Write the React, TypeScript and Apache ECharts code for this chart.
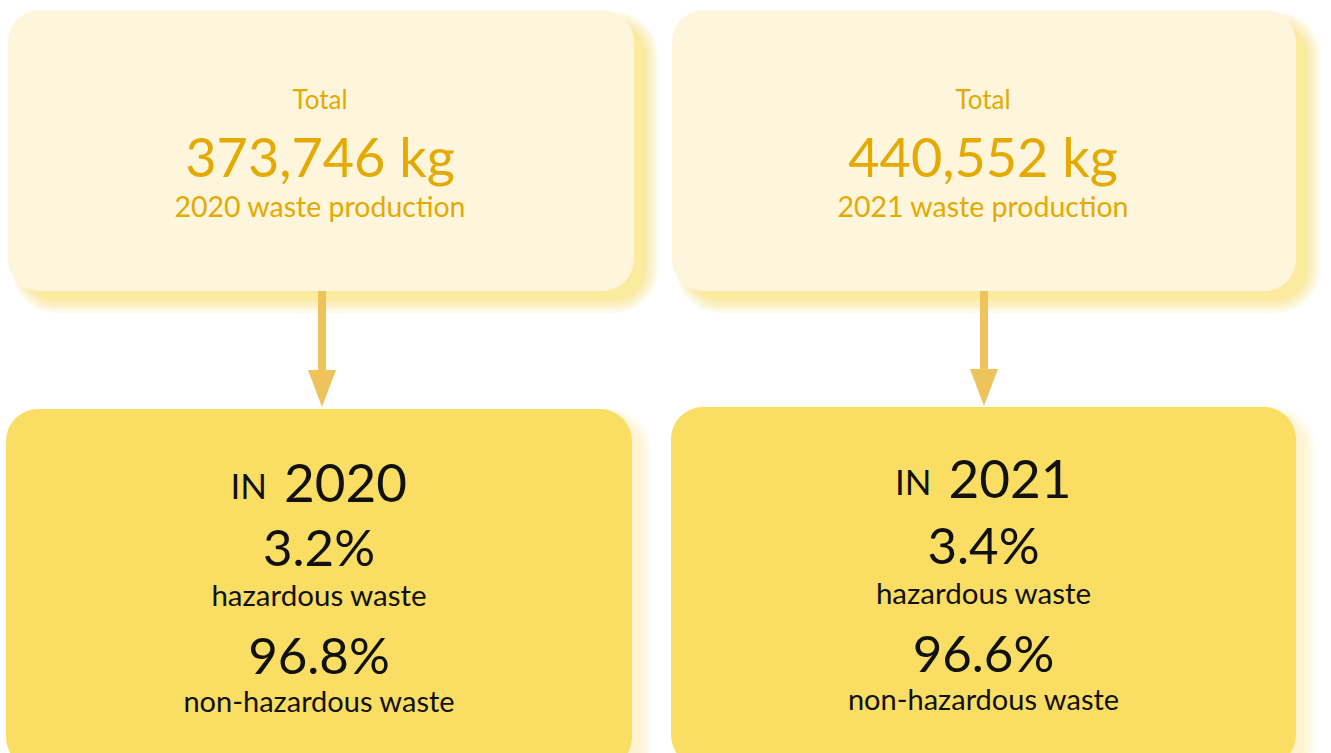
import React, { useEffect, useRef } from "react";
import * as echarts from "echarts";

// ---- data ----
const years: string[] = ["2020", "2021"];
const totalsKg: number[] = [373746, 440552];
const hazardousPct: number[] = [3.2, 3.4];
const nonHazardousPct: number[] = [96.8, 96.6];
const labelTotal = "Total";
const labelProduction = "waste production";
const labelIn = "IN";
const labelHaz = "hazardous waste";
const labelNonHaz = "non-hazardous waste";

// ---- layout ----
const topBoxes = [
  { x: 8, y: 10, w: 626, h: 281 },
  { x: 672, y: 10, w: 624, h: 281 },
];
const bottomBoxes = [
  { x: 6, y: 409, w: 626, h: 360, dy: 0 },
  { x: 671, y: 407, w: 625, h: 360, dy: -2 },
];
const arrowX = [322, 984];

const FONT = "Lato, 'Noto Sans', sans-serif";
const GOLD = "#e4aa00";
const DARK = "#111111";

function fmt(n: number) {
  return n.toLocaleString("en-US");
}

// soft shadow emulated by stacked translucent rects
function softShadow(x: number, y: number, w: number, h: number, r: number, rgb: string, coreAlpha: number, layerAlpha: number, steps: number, stepPx: number, z: number) {
  const out: any[] = [];
  for (let k = steps; k >= 1; k--) {
    const e = k * stepPx;
    out.push({
      type: "rect",
      shape: { x: x - e, y: y - e, width: w + 2 * e, height: h + 2 * e, r: r + e },
      style: { fill: `rgba(${rgb},${layerAlpha})` },
      z,
      silent: true,
    });
  }
  out.push({
    type: "rect",
    shape: { x, y, width: w, height: h, r },
    style: { fill: `rgba(${rgb},${coreAlpha})` },
    z,
    silent: true,
  });
  return out;
}

function buildGraphics() {
  const els: any[] = [];
  years.forEach((yr, i) => {
    const tb = topBoxes[i];
    const bb = bottomBoxes[i];
    const tcx = tb.x + tb.w / 2 - 1;
    const bcx = bb.x + bb.w / 2;
    // bottom box faint shadow
    els.push(...softShadow(bb.x + 16, bb.y + 10, bb.w - 8, bb.h, 32, "252,242,190", 0.35, 0.12, 6, 2, 0));
    // bottom box
    els.push({
      type: "rect",
      shape: { x: bb.x, y: bb.y, width: bb.w, height: bb.h, r: 32 },
      style: { fill: "#f9de63" },
      z: 1,
    });
    // top box shadow
    els.push(...softShadow(tb.x + 16, tb.y + 14, tb.w - 4, tb.h - 4, 32, "250,233,150", 0.75, 0.16, 6, 2, 2));
    // top box
    els.push({
      type: "rect",
      shape: { x: tb.x, y: tb.y, width: tb.w, height: tb.h, r: 32 },
      style: { fill: "#fdf5dc" },
      z: 3,
    });
    // arrow
    const ax = arrowX[i];
    els.push({
      type: "rect",
      shape: { x: ax - 4, y: tb.y + tb.h, width: 8, height: 80 },
      style: { fill: "#eec35c" },
      z: 4,
    });
    els.push({
      type: "polygon",
      shape: {
        points: [
          [ax - 14, 370 + bb.dy / 2],
          [ax + 14, 370 + bb.dy / 2],
          [ax, 407 + bb.dy / 2],
        ],
      },
      style: { fill: "#eec35c" },
      z: 4,
    });
    const txt = (text: string, x: number, y: number, size: number, fill: string, align = "center") => ({
      type: "text",
      x,
      y,
      z: 5,
      style: {
        text,
        fill,
        fontSize: size,
        fontFamily: FONT,
        fontWeight: 400,
        align,
        verticalAlign: "middle",
      },
    });
    // top texts
    els.push(txt(labelTotal, tcx, 99, 26, GOLD));
    els.push(txt(fmt(totalsKg[i]) + " kg", tcx, 156, 54, GOLD));
    els.push(txt(yr + " " + labelProduction, tcx, 206, 28.5, GOLD));
    // bottom texts
    const d = bb.dy;
    els.push(txt(labelIn, bcx - 52, 485 + d * 2, 35, DARK, "right"));
    els.push(txt(yr, bcx - 35, 481 + d * 2, 53, DARK, "left"));
    els.push(txt(hazardousPct[i].toFixed(1) + "%", bcx, 546 + d, 51, DARK));
    els.push(txt(labelHaz, bcx, 594 + d, 29.5, DARK));
    els.push(txt(nonHazardousPct[i].toFixed(1) + "%", bcx, 654 + d, 51, DARK));
    els.push(txt(labelNonHaz, bcx, 700 + d, 29, DARK));
  });
  return els;
}

export default function App() {
  const ref = useRef<HTMLDivElement>(null);
  useEffect(() => {
    if (!ref.current) return;
    const chart = echarts.init(ref.current, undefined, { renderer: "svg" });
    chart.setOption({
      animation: false,
      backgroundColor: "#ffffff",
      graphic: { elements: buildGraphics() },
    });
    return () => chart.dispose();
  }, []);
  return (
    <div
      ref={ref}
      style={{ position: "fixed", left: 0, top: 0, width: 1331, height: 753 }}
    />
  );
}
